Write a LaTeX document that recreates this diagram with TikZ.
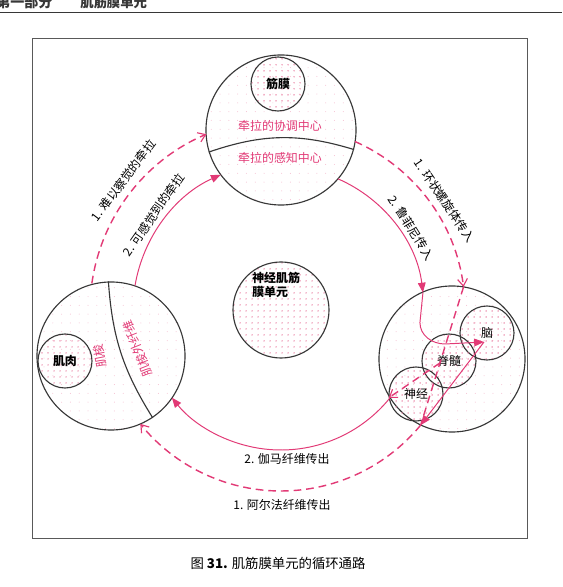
\documentclass[tikz,border=0pt]{standalone}
\usepackage{fontspec}
\setmainfont{Noto Sans CJK SC}
\usetikzlibrary{arrows.meta,patterns.meta,calc}
\definecolor{pinkline}{RGB}{226,58,118}
\definecolor{dotpink}{RGB}{232,110,150}
\definecolor{inkgray}{RGB}{55,55,55}

\begin{document}
\begin{tikzpicture}[x=0.025cm, y=0.025cm,
  bigcircle/.style={draw=inkgray, circle, line width=0.8pt, inner sep=0pt, pattern={Dots[distance=2.2mm, radius=0.35pt]}, pattern color=dotpink!45},
  smallcircle/.style={draw=inkgray, circle, line width=0.8pt, inner sep=0pt, minimum size=1.35cm, pattern={Dots[distance=1.5mm, radius=0.5pt]}, pattern color=dotpink, font=\fontsize{8.5}{10}\selectfont},
  lbl/.style={inner sep=0pt, font=\fontsize{8.5}{10}\selectfont},
  pinklbl/.style={lbl, text=pinkline},
  solidflow/.style={pinkline, line width=0.7pt},
  dashflow/.style={pinkline, line width=1pt, dash pattern=on 5.5pt off 3.5pt},
  tipfill/.style={-{Triangle[length=7pt,width=5.5pt]}},
  tipopen/.style={-{Straight Barb[length=5pt,width=7pt,line width=0.8pt]}}]
  \useasboundingbox (0,0) rectangle (562,587);
  \fill[white] (0,0) rectangle (562,587);

  \node[anchor=base west, inner sep=0pt, text=inkgray, font=\fontsize{10}{12}\selectfont\bfseries] (PartNo) at (-4,579) {第一部分};
  \node[anchor=base west, inner sep=0pt, text=inkgray, font=\fontsize{9.5}{12}\selectfont\bfseries] (PartName) at (80,579) {肌筋膜单元};
  \draw[inkgray, line width=0.6pt] (0,574.3) -- (562,574.3);
  \draw[gray!70!black, line width=0.7pt] (32,49) rectangle (527,549);

  \node[bigcircle, minimum size=3.75cm] (Top) at (281,457) {};
  \node[bigcircle, minimum size=3.7cm] (Left) at (111,231) {};
  \node[bigcircle, minimum size=3.65cm] (Right) at (452,228) {};
  \node[smallcircle, minimum size=2.4cm] (Unit) at (281,277) {};
  \node[lbl, anchor=west, align=left, font=\fontsize{8.5}{10}\selectfont\bfseries] (UnitLabel) at (252,302) {神经肌筋\\膜单元};

  \node[smallcircle] (Fascia) at (278,503) {\bfseries 筋膜};
  \node[smallcircle] (Muscle) at (65,226) {\bfseries 肌肉};
  \node[smallcircle] (Brain) at (487,254) {脑};
  \node[smallcircle] (Spinal) at (449,226) {脊髓};
  \node[smallcircle] (Nerve) at (416,193) {神经};

  \draw[inkgray, line width=0.8pt] (Top.197) to[bend left=18] (Top.-15);
  \draw[inkgray, line width=0.8pt] (Left.92) to[bend right=14] (Left.-56);

  \node[pinklbl] (CoordCentre) at (280,461) {牵拉的协调中心};
  \node[pinklbl] (PercepCentre) at (280,429) {牵拉的感知中心};
  \node[pinklbl, rotate=101] (Spindle) at (100,231) {肌梭};
  \node[pinklbl, rotate=112] (Extrafusal) at (137.5,238.5) {肌梭外纤维};

  \coordinate (PullA) at ([shift={(172:191)}]Unit.center);
  \coordinate (PullB) at ([shift={(170.5:148)}]Unit.center);
  \coordinate (RingS) at ([shift={(66.3:184)}]Unit.center);
  \coordinate (RufS) at ([shift={(66.5:143)}]Unit.center);
  \coordinate (AlphaS) at ([shift={(-39.5:181)}]Unit.center);
  \coordinate (GammaS) at ([shift={(-39:140)}]Unit.center);
  \coordinate (BrainIn) at ([shift={(-3,-9)}]Brain.center);

  \draw[dashflow, tipopen] (PullA) arc[start angle=172, end angle=113, radius=191];
  \draw[solidflow, tipfill] (PullB) arc[start angle=170.5, end angle=114, radius=148];

  \draw[dashflow, tipopen] (RingS) arc[start angle=66.3, end angle=7.2, radius=184] coordinate (RingE);
  \draw[dashflow] (RingE) -- (AlphaS);
  \draw[dashflow, tipopen] ($(RingE)!0.55!(AlphaS)$) -- (Nerve.188);

  \draw[solidflow, tipfill] (RufS) arc[start angle=66.5, end angle=7, radius=143] coordinate (RufE);
  \draw[solidflow, tipfill] (RufE) -- ++(-3,-30) to[out=-90, in=180] (445,243) -- (BrainIn);
  \draw[solidflow, tipfill] (BrainIn) -- (AlphaS);

  \draw[solidflow, tipfill] (GammaS) arc[start angle=-39, end angle=-141.2, radius=140];
  \draw[dashflow, tipopen] (AlphaS) arc[start angle=-39.5, end angle=-141, radius=181];

  \node[lbl, rotate=53] (PullALabel) at ([shift={(140.6:204)}]Unit.center) {1. 难以察觉的牵拉};
  \node[lbl, rotate=55] (PullBLabel) at ([shift={(143.2:159)}]Unit.center) {2. 可感觉到的牵拉};
  \node[lbl, rotate=-56] (RingLabel) at ([shift={(33.7:197)}]Unit.center) {1. 环状螺旋体传入};
  \node[lbl, rotate=-58] (RufLabel) at ([shift={(32.3:154)}]Unit.center) {2. 鲁菲尼传入};
  \node[lbl] (GammaLabel) at (287,128) {2. 伽马纤维传出};
  \node[lbl] (AlphaLabel) at (282,82) {1. 阿尔法纤维传出};

  \node[inner sep=0pt, font=\fontsize{9.5}{11}\selectfont] (Caption) at (278,24) {图 \textbf{31.} 肌筋膜单元的循环通路};
\end{tikzpicture}
\end{document}
